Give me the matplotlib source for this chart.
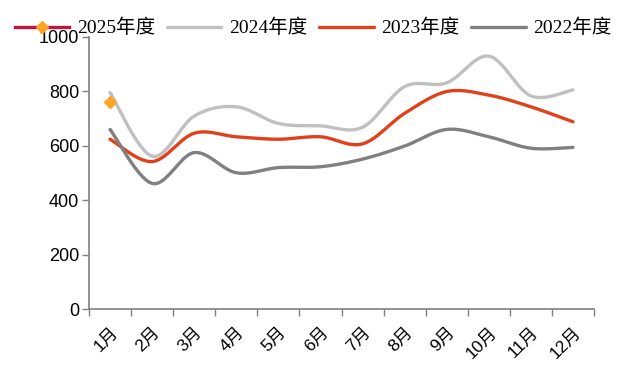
import numpy as np
import matplotlib
matplotlib.use("Agg")
import matplotlib.pyplot as plt

plt.rcParams["font.family"] = ["Liberation Sans", "Noto Sans CJK SC"]

months = ["1月", "2月", "3月", "4月", "5月", "6月",
          "7月", "8月", "9月", "10月", "11月", "12月"]

v2025 = [760]
v2024 = [794, 561, 708, 742, 681, 672, 667, 816, 830, 928, 782, 804]
v2023 = [623, 541, 645, 632, 623, 632, 606, 718, 798, 785, 742, 687]
v2022 = [659, 461, 574, 500, 519, 522, 550, 598, 659, 632, 590, 593]


def smooth(ys, n=30):
    # excel-style smoothed line: bezier segments with catmull-rom control points
    xs = np.arange(len(ys), dtype=float)
    ys = np.asarray(ys, dtype=float)
    px = np.concatenate([[xs[0]], xs, [xs[-1]]])
    py = np.concatenate([[ys[0]], ys, [ys[-1]]])
    t = np.linspace(0, 1, n)[:, None]
    out_x, out_y = [], []
    for i in range(1, len(px) - 2):
        p0 = np.array([px[i], py[i]])
        p3 = np.array([px[i + 1], py[i + 1]])
        c1 = p0 + (p3 - np.array([px[i - 1], py[i - 1]])) / 6
        c2 = p3 - (np.array([px[i + 2], py[i + 2]]) - p0) / 6
        seg = ((1 - t) ** 3 * p0 + 3 * (1 - t) ** 2 * t * c1
               + 3 * (1 - t) * t ** 2 * c2 + t ** 3 * p3)
        out_x.extend(seg[:, 0])
        out_y.extend(seg[:, 1])
    return out_x, out_y


fig = plt.figure(figsize=(6.24, 3.65), dpi=100)
ax = fig.add_axes([0.1426, 0.1534, 0.8094, 0.7466])

c2024 = "#C0C0C0"
c2023 = "#E2401A"
c2022 = "#808080"

l2024, = ax.plot(*smooth(v2024), color=c2024, lw=2.4, solid_capstyle="round", label="2024年度")
l2023, = ax.plot(*smooth(v2023), color=c2023, lw=2.4, solid_capstyle="round", label="2023年度")
l2022, = ax.plot(*smooth(v2022), color=c2022, lw=2.4, solid_capstyle="round", label="2022年度")
l2025, = ax.plot(range(len(v2025)), v2025, color="#C0143C", lw=2.4,
                 marker="D", ms=6.5, mfc="#FFA526", mec="#FFA526", label="2025年度")

ax.set_xlim(-0.5, 11.5)
ax.set_ylim(0, 1000)
ax.set_yticks(np.arange(0, 1001, 200))
ax.set_xticks(np.arange(-0.5, 12, 1))
ax.set_xticklabels([])
ax.set_xticks(np.arange(12), minor=True)
ax.set_xticklabels(months, minor=True, rotation=45, ha="right", va="top",
                   rotation_mode="anchor", fontsize=12.5)
ax.tick_params(axis="x", which="minor", length=0, pad=11)
ax.tick_params(axis="x", which="major", length=5, color="#808080", width=1)
ax.tick_params(axis="y", length=5, color="#808080", width=1, labelsize=13, pad=2)

for s in ["top", "right"]:
    ax.spines[s].set_visible(False)
for s in ["left", "bottom"]:
    ax.spines[s].set_color("#808080")
    ax.spines[s].set_linewidth(1.2)

fig.legend(handles=[l2025, l2024, l2023, l2022], loc="upper left",
           bbox_to_anchor=(15 / 624, 1 - 19 / 365), ncol=4, frameon=False,
           prop={"family": ["Liberation Serif", "Noto Sans CJK SC"], "size": 14},
           handlelength=2.8, handletextpad=0.4, columnspacing=0.6,
           borderpad=0, borderaxespad=0)

fig.savefig("out.png", dpi=100)
